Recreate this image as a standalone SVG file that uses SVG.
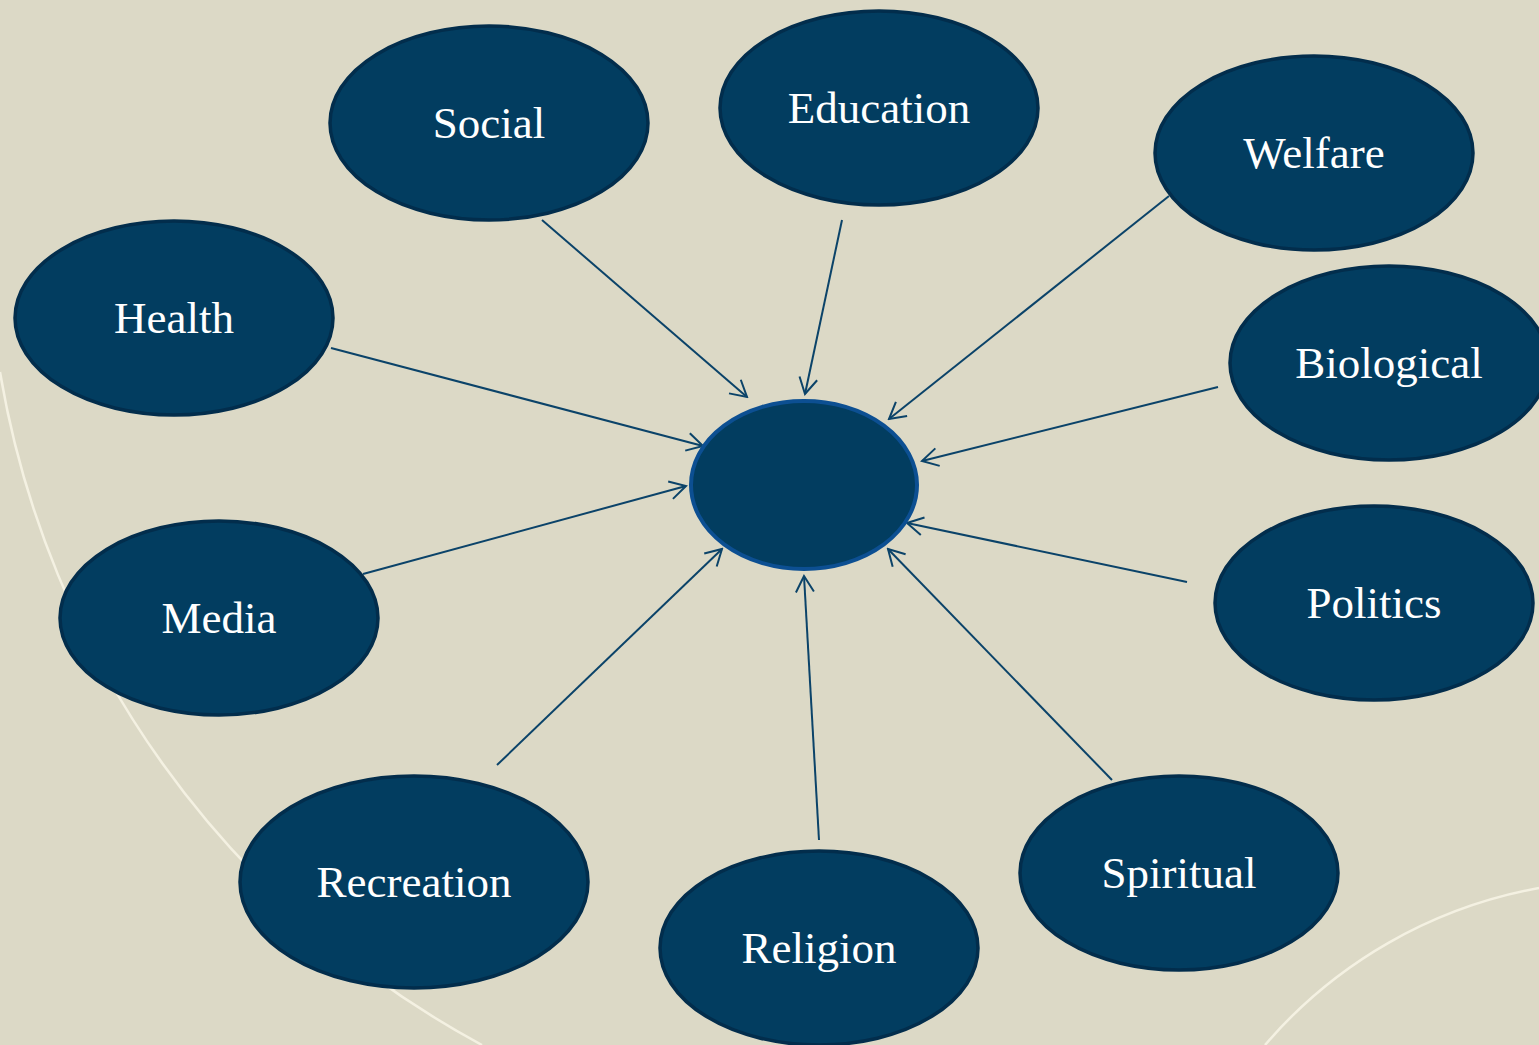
<svg xmlns="http://www.w3.org/2000/svg" width="1539" height="1045" viewBox="0 0 1539 1045">
<defs>
<style>
.bg{fill:#dcd9c6}
.arc{fill:none;stroke:#f4f1e2;stroke-width:2.5}
.node ellipse{fill:#023d60;stroke:#022d4c;stroke-width:3.5}
.hub{fill:#023d60;stroke:#0c4f92;stroke-width:4}
.node text{font-family:"Liberation Serif","DejaVu Serif",serif;font-size:45px;fill:#ffffff;text-anchor:middle}
.conn line{stroke:#0b4369;stroke-width:2;fill:none;marker-end:url(#arr)}
</style>
<marker id="arr" markerUnits="userSpaceOnUse" viewBox="-18 -11 20 22" refX="0" refY="0" markerWidth="20" markerHeight="22" orient="auto">
<path d="M-16,-9 L0,0 L-16,9" fill="none" stroke="#0b4369" stroke-width="2"/>
</marker>
</defs>
<rect class="bg" x="0" y="0" width="1539" height="1045"/>
<path class="arc" d="M0,372 A941,941 0 0 0 482,1045"/>
<path class="arc" d="M1265,1045 A471,471 0 0 1 1539,888"/>

<g id="connectors" class="conn">
<line x1="542" y1="220" x2="747" y2="397"/>
<line x1="842" y1="220" x2="805" y2="394"/>
<line x1="1169" y1="196" x2="889" y2="419"/>
<line x1="331" y1="348" x2="703" y2="446"/>
<line x1="1218" y1="387" x2="922" y2="461"/>
<line x1="363" y1="574" x2="686" y2="486"/>
<line x1="1187" y1="582" x2="907" y2="523"/>
<line x1="497" y1="765" x2="722" y2="549"/>
<line x1="819" y1="840" x2="804" y2="576"/>
<line x1="1112" y1="780" x2="888" y2="549"/>
</g>

<g id="center"><ellipse class="hub" cx="804" cy="485" rx="113" ry="84"/></g>

<g id="social" class="node"><ellipse cx="489" cy="123" rx="159" ry="97"/><text x="489" y="138">Social</text></g>
<g id="education" class="node"><ellipse cx="879" cy="108" rx="159" ry="97"/><text x="879" y="123">Education</text></g>
<g id="welfare" class="node"><ellipse cx="1314" cy="153" rx="159" ry="97"/><text x="1314" y="168">Welfare</text></g>
<g id="health" class="node"><ellipse cx="174" cy="318" rx="159" ry="97"/><text x="174" y="333">Health</text></g>
<g id="biological" class="node"><ellipse cx="1389" cy="363" rx="159" ry="97"/><text x="1389" y="378">Biological</text></g>
<g id="media" class="node"><ellipse cx="219" cy="618" rx="159" ry="97"/><text x="219" y="633">Media</text></g>
<g id="politics" class="node"><ellipse cx="1374" cy="603" rx="159" ry="97"/><text x="1374" y="618">Politics</text></g>
<g id="recreation" class="node"><ellipse cx="414" cy="882" rx="174" ry="106"/><text x="414" y="897">Recreation</text></g>
<g id="religion" class="node"><ellipse cx="819" cy="948" rx="159" ry="97"/><text x="819" y="963">Religion</text></g>
<g id="spiritual" class="node"><ellipse cx="1179" cy="873" rx="159" ry="97"/><text x="1179" y="888">Spiritual</text></g>
</svg>
